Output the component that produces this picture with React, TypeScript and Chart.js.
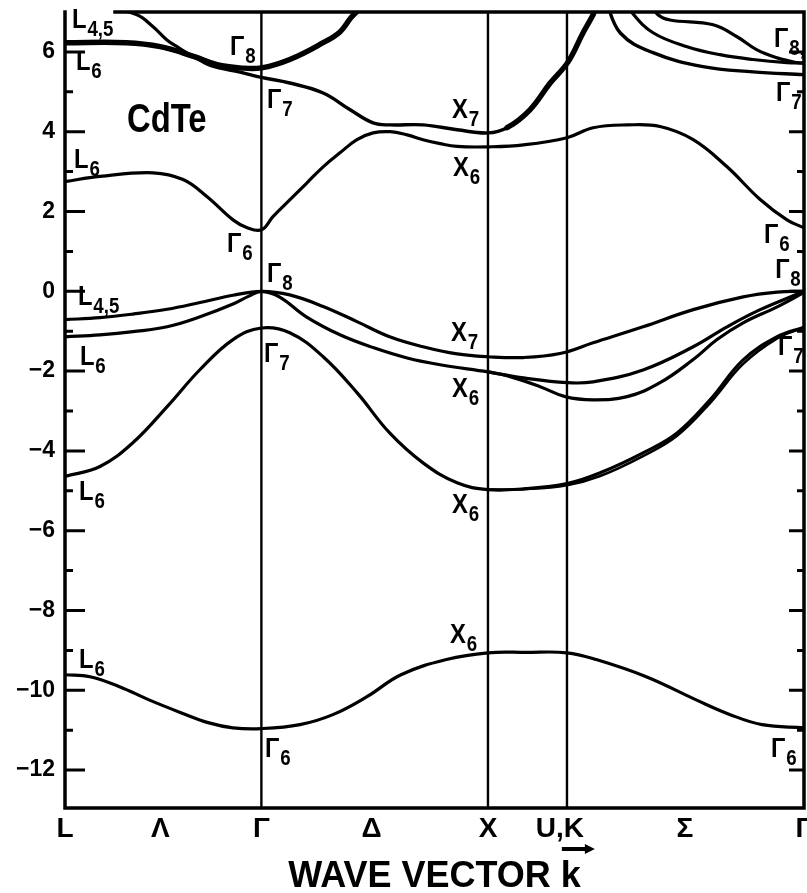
import React, { useEffect, useRef } from "react";
import { Chart, registerables } from "chart.js";

Chart.register(...registerables);

// ---- data (k in units of 2π/a along the path, E in eV) ----
const K_MIN = 0;
const K_MAX = 3.255;
const E_MIN = -12.95;
const E_MAX = 7.0;

// high-symmetry points: Γ, X, U/K (vertical guide lines)
const SYM_LINES = [0.865, 1.863, 2.211];

const X_TICK_POS = [0, 0.42, 0.865, 1.35, 1.863, 2.18, 2.73, 3.255];
const X_TICK_LABELS = ["L", "Λ", "Γ", "Δ", "X", "U,K", "Σ", "Γ"];

const Y_TICK_VALUES_MAJOR = [-12, -10, -8, -6, -4, -2, 0, 2, 4, 6];

// lowest valence band (L6 – Γ6 – X6 – Γ6)
const BAND_S: [number, number][] = [
  [0, -9.61], [0.11, -9.66], [0.24, -9.91], [0.37, -10.24], [0.51, -10.56], [0.63, -10.81],
  [0.74, -10.94], [0.865, -10.96], [1.035, -10.86], [1.18, -10.61], [1.33, -10.16], [1.48, -9.61],
  [1.68, -9.23], [1.863, -9.06], [2.03, -9.05], [2.211, -9.06], [2.34, -9.23], [2.56, -9.66],
  [2.78, -10.24], [2.93, -10.61], [3.07, -10.86], [3.255, -10.94],
];

// second valence band (L6 – Γ7 – X6 – Γ7)
const BAND_V2A: [number, number][] = [
  [0, -4.64], [0.154, -4.39], [0.3, -3.79], [0.45, -2.89], [0.595, -1.96], [0.74, -1.21],
  [0.865, -0.92], [0.99, -1.04], [1.137, -1.64], [1.286, -2.54], [1.43, -3.55], [1.577, -4.3],
  [1.727, -4.8], [1.863, -4.97], [2.02, -4.95], [2.211, -4.82], [2.357, -4.55], [2.546, -4.05],
  [2.696, -3.55], [2.841, -2.72], [2.987, -1.72], [3.137, -1.14], [3.255, -0.9],
];
const BAND_V2B: [number, number][] = [
  [1.863, -4.97], [2.02, -4.96], [2.211, -4.86], [2.357, -4.63], [2.546, -4.13], [2.696, -3.62],
  [2.841, -2.8], [2.987, -1.82], [3.137, -1.18], [3.255, -0.9],
];

// top valence bands (Γ8)
const BAND_VB_UP: [number, number][] = [
  [0, -0.71], [0.154, -0.66], [0.3, -0.57], [0.45, -0.45], [0.595, -0.28], [0.74, -0.1],
  [0.865, 0], [0.99, -0.09], [1.137, -0.38], [1.286, -0.76], [1.43, -1.14], [1.577, -1.39],
  [1.727, -1.57], [1.863, -1.64], [2.02, -1.66], [2.18, -1.56], [2.326, -1.29], [2.546, -0.89],
  [2.767, -0.46], [2.987, -0.14], [3.137, -0.02], [3.255, 0],
];
const BAND_VB_MID: [number, number][] = [
  [0, -1.14], [0.154, -1.09], [0.3, -1.01], [0.45, -0.89], [0.595, -0.64], [0.74, -0.32],
  [0.81, -0.12], [0.865, 0], [0.944, -0.14], [1.063, -0.64], [1.211, -1.09], [1.357, -1.41],
  [1.507, -1.67], [1.652, -1.84], [1.863, -2.02], [2.02, -2.17], [2.211, -2.29], [2.326, -2.27],
  [2.546, -1.97], [2.767, -1.39], [2.916, -0.89], [3.062, -0.46], [3.255, 0],
];
const BAND_VB_LOW: [number, number][] = [
  [1.863, -2.02], [1.95, -2.12], [2.093, -2.39], [2.203, -2.64], [2.326, -2.72], [2.476, -2.64],
  [2.621, -2.29], [2.767, -1.71], [2.872, -1.21], [2.987, -0.79], [3.137, -0.39], [3.255, -0.03],
];

// lowest conduction band (L6 – Γ6 – X6 – Γ6)
const BAND_CB1: [number, number][] = [
  [0, 2.75], [0.154, 2.88], [0.388, 2.97], [0.52, 2.8], [0.626, 2.37], [0.74, 1.79], [0.8, 1.6],
  [0.865, 1.54], [0.916, 1.87], [0.99, 2.29], [1.066, 2.72], [1.137, 3.12], [1.211, 3.47],
  [1.286, 3.8], [1.357, 3.97], [1.432, 4.0], [1.507, 3.92], [1.577, 3.8], [1.652, 3.7],
  [1.727, 3.63], [1.863, 3.62], [2.02, 3.67], [2.211, 3.85], [2.326, 4.1], [2.476, 4.17],
  [2.621, 4.13], [2.767, 3.8], [2.916, 3.12], [3.062, 2.3], [3.18, 1.79], [3.255, 1.59],
];

// conduction band through Γ7 and X7
const BAND_CB_G7: [number, number][] = [
  [0, 6.23], [0.27, 6.22], [0.42, 6.12], [0.57, 5.86], [0.64, 5.66], [0.78, 5.48], [0.865, 5.36],
  [0.99, 5.22], [1.137, 4.97], [1.256, 4.55], [1.357, 4.22], [1.432, 4.17], [1.577, 4.17],
  [1.727, 4.05], [1.863, 3.97], [1.947, 4.1], [2.048, 4.55], [2.137, 5.22], [2.216, 5.75],
  [2.282, 6.48], [2.326, 6.93], [2.365, 7.4], [2.445, 6.48], [2.59, 5.98], [2.81, 5.63],
  [3.03, 5.5], [3.255, 5.43],
];
// k-range where this band is drawn doubled (heavier stroke)
const CB_G7_HEAVY: [number, number] = [1.9, 2.37];

// conduction band through Γ8 (heavy line)
const BAND_CB_G8: [number, number][] = [
  [0, 6.23], [0.27, 6.23], [0.42, 6.13], [0.57, 5.88], [0.67, 5.68], [0.77, 5.6], [0.865, 5.6],
  [0.99, 5.81], [1.137, 6.23], [1.211, 6.5], [1.26, 6.86], [1.3, 7.1], [1.35, 7.5],
];

// band from L4,5 (above the frame) into Γ8
const BAND_CB_L45: [number, number][] = [
  [0, 7.1], [0.2, 7.08], [0.317, 6.93], [0.388, 6.63], [0.449, 6.3], [0.493, 6.13], [0.57, 5.88],
  [0.67, 5.68], [0.77, 5.6], [0.865, 5.6],
];

// upper bands along Σ ending at Γ8
const BAND_CB_S2: [number, number][] = [
  [2.44, 7.5], [2.498, 6.98], [2.59, 6.48], [2.74, 6.13], [2.885, 5.93], [3.03, 5.81],
  [3.18, 5.73], [3.255, 5.72],
];
const BAND_CB_S3: [number, number][] = [
  [2.55, 7.4], [2.612, 6.93], [2.665, 6.8], [2.855, 6.68], [2.96, 6.38], [3.048, 6.05],
  [3.137, 5.85], [3.225, 5.73], [3.255, 5.72],
];

// point labels: [main, subscript, k, E]
const POINT_LABELS: [string, string, number, number][] = [
  ["L", "4,5", 0.031, 6.61],
  ["Γ", "8", 0.727, 5.93],
  ["L", "6", 0.048, 5.55],
  ["Γ", "7", 0.89, 4.6],
  ["L", "6", 0.04, 3.1],
  ["Γ", "6", 0.714, 0.99],
  ["Γ", "8", 0.89, 0.24],
  ["L", "4,5", 0.057, -0.34],
  ["L", "6", 0.066, -1.84],
  ["Γ", "7", 0.877, -1.76],
  ["L", "6", 0.062, -5.22],
  ["L", "6", 0.062, -9.43],
  ["Γ", "6", 0.881, -11.66],
  ["X", "7", 1.705, 4.35],
  ["X", "6", 1.709, 2.9],
  ["X", "7", 1.7, -1.24],
  ["X", "6", 1.705, -2.64],
  ["X", "6", 1.705, -5.55],
  ["X", "6", 1.696, -8.81],
  ["Γ", "8,", 3.123, 6.13],
  ["Γ", "7", 3.132, 4.78],
  ["Γ", "6", 3.079, 1.22],
  ["Γ", "8", 3.128, 0.34],
  ["Γ", "7", 3.141, -1.59],
  ["Γ", "6", 3.11, -11.66],
];

const MATERIAL = "CdTe";
const MATERIAL_POS: [number, number] = [0.273, 4.0];
const X_TITLE_PREFIX = "WAVE VECTOR ";
const X_TITLE_K = "k";

const FONT = "'Liberation Sans', Arial, sans-serif";

function fmtY(v: number): string {
  return v < 0 ? "\u2212" + Math.abs(v) : String(v);
}

const bands: { pts: [number, number][]; w: number; heavy?: [number, number] }[] = [
  { pts: BAND_S, w: 3.2 },
  { pts: BAND_V2A, w: 3.2 },
  { pts: BAND_V2B, w: 2.6 },
  { pts: BAND_VB_UP, w: 3.2 },
  { pts: BAND_VB_MID, w: 3.2 },
  { pts: BAND_VB_LOW, w: 3.2 },
  { pts: BAND_CB1, w: 3.2 },
  { pts: BAND_CB_G7, w: 3.4, heavy: CB_G7_HEAVY },
  { pts: BAND_CB_G8, w: 5.4 },
  { pts: BAND_CB_L45, w: 3.2 },
  { pts: BAND_CB_S2, w: 3.2 },
  { pts: BAND_CB_S3, w: 3.2 },
];

const decorPlugin = {
  id: "decor",
  afterDraw(chart: any) {
    const { ctx, chartArea, scales } = chart;
    const xs = scales.x;
    const ys = scales.y;
    const { left, right, top, bottom } = chartArea;
    ctx.save();
    ctx.strokeStyle = "#000";
    ctx.fillStyle = "#000";
    // frame (top edge leaves room for the L4,5 label)
    ctx.lineWidth = 3.5;
    ctx.lineCap = "square";
    ctx.beginPath();
    ctx.moveTo(left + 50, top);
    ctx.lineTo(right, top);
    ctx.lineTo(right, bottom);
    ctx.lineTo(left, bottom);
    ctx.lineTo(left, top);
    ctx.stroke();
    ctx.lineCap = "butt";
    // inward ticks
    ctx.lineWidth = 3;
    for (let v = Math.ceil(E_MIN); v <= Math.floor(E_MAX) - 1; v++) {
      const y = ys.getPixelForValue(v);
      const major = Y_TICK_VALUES_MAJOR.includes(v);
      ctx.beginPath();
      ctx.moveTo(left, y);
      ctx.lineTo(left + (major ? 20 : 8), y);
      ctx.moveTo(right, y);
      ctx.lineTo(right - (major ? 15 : 7), y);
      ctx.stroke();
    }
    // point labels
    for (const [main, sub, k, e] of POINT_LABELS) {
      const x = xs.getPixelForValue(k);
      const y = ys.getPixelForValue(e);
      ctx.save();
      ctx.translate(x, y);
      ctx.scale(0.85, 1);
      ctx.textBaseline = "alphabetic";
      ctx.textAlign = "left";
      ctx.font = `bold 28px ${FONT}`;
      ctx.fillText(main, 0, 0);
      const w = ctx.measureText(main).width;
      ctx.font = `bold 22px ${FONT}`;
      ctx.fillText(sub, w + 1, 8);
      ctx.restore();
    }
    // material name
    {
      const x = xs.getPixelForValue(MATERIAL_POS[0]);
      const y = ys.getPixelForValue(MATERIAL_POS[1]);
      ctx.save();
      ctx.translate(x, y);
      ctx.scale(0.82, 1);
      ctx.font = `bold 40px ${FONT}`;
      ctx.textBaseline = "alphabetic";
      ctx.textAlign = "left";
      ctx.fillText(MATERIAL, 0, 0);
      ctx.restore();
    }
    // arrow over k of the axis title
    {
      ctx.font = `bold 36px ${FONT}`;
      const full = X_TITLE_PREFIX + X_TITLE_K;
      const wFull = ctx.measureText(full).width;
      const wPre = ctx.measureText(X_TITLE_PREFIX).width;
      const cx = (left + right) / 2;
      const x0 = cx - wFull / 2 + wPre;
      const x1 = cx + wFull / 2;
      const ay = 849;
      ctx.lineWidth = 4;
      ctx.beginPath();
      ctx.moveTo(x0 + 1, ay);
      ctx.lineTo(x1 + 6, ay);
      ctx.stroke();
      ctx.beginPath();
      ctx.moveTo(x1 + 14, ay);
      ctx.lineTo(x1 + 4, ay - 5);
      ctx.lineTo(x1 + 4, ay + 5);
      ctx.closePath();
      ctx.fill();
    }
    ctx.restore();
  },
};

export default function App() {
  const ref = useRef<HTMLCanvasElement | null>(null);

  useEffect(() => {
    document.body.style.margin = "0";
    const canvas = ref.current;
    if (!canvas) return;

    const datasets: any[] = bands.map((b) => {
      const ds: any = {
        data: b.pts.map(([x, y]) => ({ x, y })),
        showLine: true,
        borderColor: "#000",
        borderWidth: b.w,
        pointRadius: 0,
        tension: 0.4,
        fill: false,
        clip: 0,
        borderCapStyle: "round",
        borderJoinStyle: "round",
      };
      if (b.heavy) {
        const [h0, h1] = b.heavy;
        ds.segment = {
          borderWidth: (c: any) =>
            c.p0.parsed.x >= h0 && c.p1.parsed.x <= h1 ? 5.4 : b.w,
        };
      }
      return ds;
    });
    for (const k of SYM_LINES) {
      datasets.push({
        data: [
          { x: k, y: E_MIN },
          { x: k, y: E_MAX },
        ],
        showLine: true,
        borderColor: "#000",
        borderWidth: 2.4,
        pointRadius: 0,
        tension: 0,
        fill: false,
        clip: 0,
      });
    }

    const chart = new Chart(canvas, {
      type: "scatter",
      data: { datasets },
      options: {
        responsive: false,
        animation: false,
        layout: { padding: { top: 12, right: 3, bottom: 0, left: 0 } },
        plugins: { legend: { display: false }, tooltip: { enabled: false } },
        scales: {
          x: {
            type: "linear",
            min: K_MIN,
            max: K_MAX,
            afterBuildTicks: (axis: any) => {
              axis.ticks = X_TICK_POS.map((v) => ({ value: v }));
            },
            afterFit: (axis: any) => {
              axis.height = 85;
              axis.paddingLeft = 0;
              axis.paddingRight = 0;
            },
            ticks: {
              autoSkip: false,
              maxRotation: 0,
              minRotation: 0,
              padding: 4,
              color: "#000",
              font: { family: FONT, size: 28, weight: "bold" },
              callback: (_v: any, i: number) => X_TICK_LABELS[i],
            },
            grid: { display: false, drawTicks: false },
            border: { display: false },
            title: {
              display: true,
              text: X_TITLE_PREFIX + X_TITLE_K,
              color: "#000",
              font: { family: FONT, size: 36, weight: "bold", lineHeight: 1 },
              padding: { top: 0, bottom: -2 },
            },
          },
          y: {
            type: "linear",
            min: E_MIN,
            max: E_MAX,
            afterFit: (axis: any) => {
              axis.width = 65;
              axis.paddingTop = 0;
              axis.paddingBottom = 0;
            },
            ticks: {
              stepSize: 1,
              includeBounds: false,
              padding: 10,
              color: "#000",
              font: { family: FONT, size: 23, weight: "bold" },
              callback: (v: any) => (Y_TICK_VALUES_MAJOR.includes(Number(v)) ? fmtY(Number(v)) : null),
            },
            grid: { display: false, drawTicks: false },
            border: { display: false },
          },
        },
      } as any,
      plugins: [decorPlugin],
    });
    return () => chart.destroy();
  }, []);

  return (
    <div style={{ width: 807, height: 893 }}>
      <canvas ref={ref} width={807} height={893} style={{ display: "block" }} />
    </div>
  );
}
